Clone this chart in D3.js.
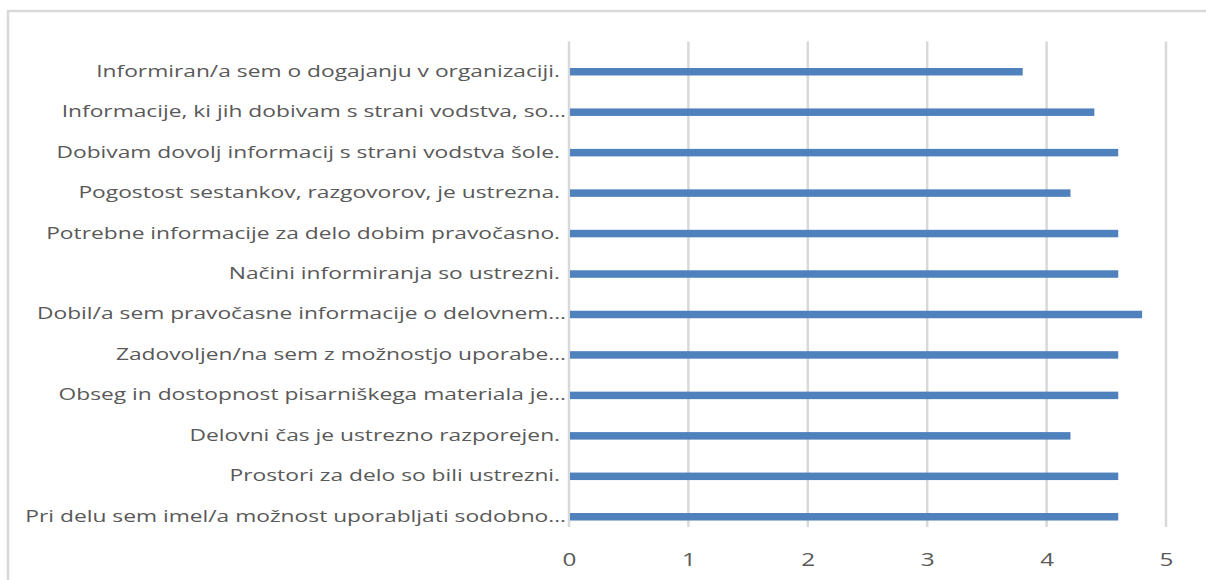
<!DOCTYPE html>
<html>
<head>
<meta charset="utf-8">
<title></title>
<style>
  body { margin: 0; background: #fff; }
  svg text { font-family: "Open Sans", sans-serif; fill: #595959; white-space: pre; }
</style>
</head>
<body>
<div id="chart"></div>
<script src="https://cdn.jsdelivr.net/npm/d3@7"></script>
<script>
var categories = [
  "Informiran/a sem o dogajanju v organizaciji. ",
  "Informacije, ki jih dobivam s strani vodstva, so…",
  "Dobivam dovolj informacij s strani vodstva šole. ",
  "Pogostost sestankov, razgovorov, je ustrezna. ",
  "Potrebne informacije za delo dobim pravočasno. ",
  "Načini informiranja so ustrezni. ",
  "Dobil/a sem pravočasne informacije o delovnem…",
  "Zadovoljen/na sem z možnostjo uporabe…",
  "Obseg in dostopnost pisarniškega materiala je…",
  "Delovni čas je ustrezno razporejen. ",
  "Prostori za delo so bili ustrezni. ",
  "Pri delu sem imel/a možnost uporabljati sodobno…"
];
var values = [3.8, 4.4, 4.6, 4.2, 4.6, 4.6, 4.8, 4.6, 4.6, 4.2, 4.6, 4.6];
var xTicks = [0, 1, 2, 3, 4, 5];

var W = 1206, H = 580;
var svg = d3.select('#chart').append('svg').attr('width', W).attr('height', H);

// outer chart border (runs off the right and bottom edge)
svg.append('rect').attr('x', 8).attr('y', 11).attr('width', 1220).attr('height', 600)
  .attr('fill', 'none').attr('stroke', '#d9d9d9').attr('stroke-width', 2.5);

var x = d3.scaleLinear().domain([0, 5]).range([569, 1166]);
var y = d3.scaleBand().domain(categories).range([51.5, 537]).padding(0);
var gridTop = 41.5, gridBottom = 527;
var barH = 7.5;
var sx = 1.47;

// gridlines
svg.append('g').selectAll('line').data(xTicks).join('line')
  .attr('x1', function (d) { return x(d); }).attr('x2', function (d) { return x(d); })
  .attr('y1', gridTop).attr('y2', gridBottom)
  .attr('stroke', '#d9d9d9').attr('stroke-width', 2.5);

// bars
svg.append('g').selectAll('rect').data(values).join('rect')
  .attr('x', x(0) + 1)
  .attr('y', function (d, i) { return y(categories[i]) + y.bandwidth() / 2 - barH / 2; })
  .attr('width', function (d) { return x(d) - x(0) - 1; })
  .attr('height', barH)
  .attr('fill', '#4f81bd');

// category axis
var yAxis = svg.append('g').attr('transform', 'translate(' + (x(0) - 3) + ',0)')
  .call(d3.axisLeft(y).tickSize(0).tickPadding(0));
yAxis.select('.domain').remove();
yAxis.selectAll('text')
  .attr('x', 0)
  .attr('transform', 'scale(' + sx + ',1)')
  .style('font-size', '15.5px')
  .attr('fill', '#595959');

// value axis
var xAxis = svg.append('g').attr('transform', 'translate(0,' + gridBottom + ')')
  .call(d3.axisBottom(x).tickValues(xTicks).tickSize(0).tickPadding(0).tickFormat(d3.format('d')));
xAxis.select('.domain').remove();
xAxis.selectAll('text')
  .attr('x', 0)
  .attr('y', 0)
  .attr('dy', '2.15em')
  .attr('transform', 'scale(1.35,1)')
  .style('font-size', '18px')
  .attr('fill', '#595959');
</script>
</body>
</html>
